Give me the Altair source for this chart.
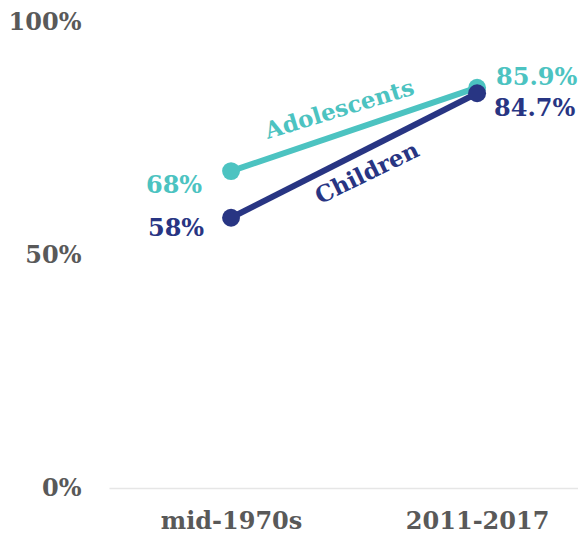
import altair as alt
import pandas as pd

periods = ["mid-1970s", "2011-2017"]
period_pos = [0, 1]
series = ["Adolescents", "Children"]
adolescents = [68.0, 85.9]
children = [58.0, 84.7]
value_labels_adol = ["68%", "85.9%"]
value_labels_child = ["58%", "84.7%"]
colors = ["#4CC3C1", "#283583"]
FONT = "DejaVu Serif"

rows = []
for s, vals, labs in [("Adolescents", adolescents, value_labels_adol), ("Children", children, value_labels_child)]:
    for p, pos, v, l in zip(periods, period_pos, vals, labs):
        rows.append({"series": s, "period": p, "pos": pos, "value": v, "label": l})
df = pd.DataFrame(rows)

xscale = alt.Scale(domain=[-0.496, 1.41], nice=False, zero=False)
yscale = alt.Scale(domain=[0, 100], nice=False)
cscale = alt.Scale(domain=series, range=colors)

x = alt.X("pos:Q", scale=xscale, axis=alt.Axis(
    values=period_pos, title=None, grid=False, ticks=False,
    labelExpr="datum.value == 0 ? 'mid-1970s' : '2011-2017'",
    labelFont=FONT, labelFontSize=24, labelFontWeight="bold", labelColor="#595959",
    labelPadding=21, domainColor="#e6e6e6", domainWidth=1.5))
y = alt.Y("value:Q", scale=yscale, axis=alt.Axis(
    values=[0, 50, 100], title=None, grid=False, ticks=False, domain=False,
    labelExpr="datum.value + '%'",
    labelFont=FONT, labelFontSize=24, labelFontWeight="bold", labelColor="#595959",
    labelPadding=28))
color = alt.Color("series:N", scale=cscale, legend=None)

base = alt.Chart(df)
lines = base.mark_line(strokeWidth=6).encode(x=x, y=y, color=color, detail="series:N")
points = base.mark_circle(size=320, opacity=1).encode(x=x, y=y, color=color)

layers = [lines, points]
offsets = {
    ("Adolescents", 0): (-57, 15, "center"),
    ("Children", 0): (-55, 11, "center"),
    ("Adolescents", 1): (19, -10, "left"),
    ("Children", 1): (17, 16, "left"),
}
for (s, pos), (dx, dy, al) in offsets.items():
    layers.append(
        base.transform_filter((alt.datum.series == s) & (alt.datum.pos == pos))
        .mark_text(font=FONT, fontSize=24, fontWeight="bold", dx=dx, dy=dy, align=al, baseline="middle")
        .encode(x=x, y=y, text="label:N", color=color)
    )

for s, ang, dx, dy in [("Adolescents", 343, -8, -23), ("Children", 334, 4, 22)]:
    layers.append(
        base.transform_filter(alt.datum.series == s)
        .transform_aggregate(pos="mean(pos)", value="mean(value)", groupby=["series"])
        .mark_text(font=FONT, fontSize=23, fontWeight="bold", angle=ang, dx=dx, dy=dy, align="center", baseline="middle")
        .encode(x=alt.X("pos:Q", scale=xscale), y=alt.Y("value:Q", scale=yscale), text="series:N", color=color)
    )

chart = (alt.layer(*layers)
         .properties(width=469, height=466)
         .configure(padding={"left": 0, "top": 2, "right": 0, "bottom": 0})
         .configure_view(stroke=None))
chart.save("out.html", embed_options={"renderer": "svg", "actions": False})
